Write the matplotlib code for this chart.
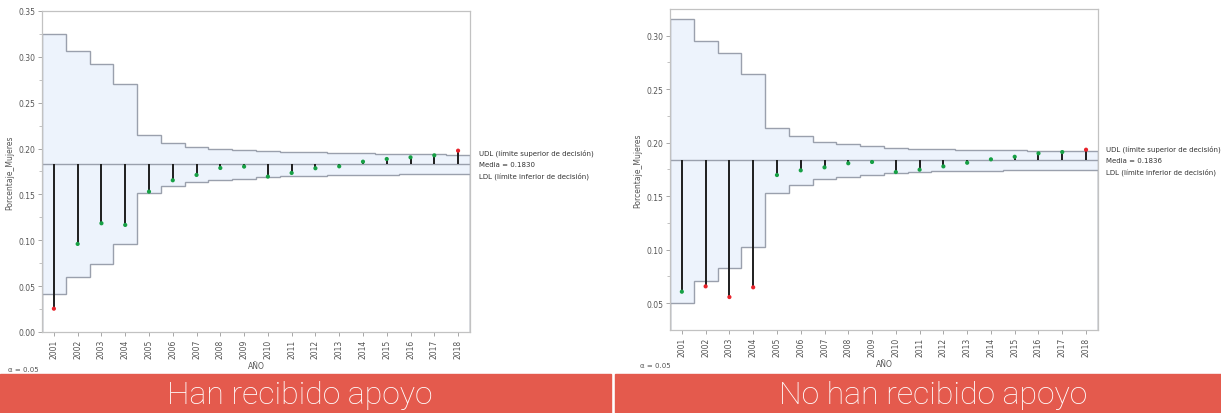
import numpy as np
import matplotlib.pyplot as plt
from matplotlib.patches import Rectangle

years = [str(y) for y in range(2001, 2019)]

# Han recibido apoyo
media_a = 0.1830
valores_a = [0.0254, 0.0960, 0.1185, 0.1167, 0.1530, 0.1654, 0.1712, 0.1788, 0.1803,
             0.1694, 0.1734, 0.1785, 0.1806, 0.1857, 0.1886, 0.1904, 0.1926, 0.1977]
udl_a = [0.3250, 0.3060, 0.2918, 0.2700, 0.2148, 0.2061, 0.2017, 0.1999, 0.1982,
         0.1970, 0.1960, 0.1957, 0.1952, 0.1948, 0.1944, 0.1941, 0.1938, 0.1935]
ldl_a = [0.0414, 0.0600, 0.0737, 0.0960, 0.1520, 0.1590, 0.1639, 0.1654, 0.1672,
         0.1686, 0.1697, 0.1703, 0.1708, 0.1712, 0.1716, 0.1719, 0.1722, 0.1725]

# No han recibido apoyo
media_b = 0.1836
valores_b = [0.0606, 0.0656, 0.0556, 0.0647, 0.1697, 0.1741, 0.1769, 0.1807, 0.1819,
             0.1725, 0.1747, 0.1778, 0.1812, 0.1844, 0.1868, 0.1900, 0.1912, 0.1934]
udl_b = [0.3159, 0.2953, 0.2835, 0.2644, 0.2140, 0.2059, 0.2003, 0.1987, 0.1968,
         0.1952, 0.1942, 0.1936, 0.1933, 0.1930, 0.1928, 0.1926, 0.1925, 0.1924]
ldl_b = [0.0503, 0.0703, 0.0830, 0.1021, 0.1526, 0.1601, 0.1657, 0.1676, 0.1694,
         0.1716, 0.1725, 0.1732, 0.1736, 0.1739, 0.1741, 0.1743, 0.1745, 0.1747]

titulos = ["Han recibido apoyo", "No han recibido apoyo"]

GRIS = '#9aa0ad'
TXT = '#555555'


def panel(ax, media, valores, udl, ldl, ylim, yticks):
    x = np.arange(len(years))
    edges = np.arange(len(years) + 1) - 0.5
    ax.stairs(udl, edges, baseline=ldl, fill=True, color='#edf3fc', zorder=1)
    ax.stairs(udl, edges, color=GRIS, lw=1.0, zorder=2)
    ax.stairs(ldl, edges, color=GRIS, lw=1.0, zorder=2)
    ax.axhline(media, color=GRIS, lw=1.0, zorder=2)
    ax.vlines(x, media, valores, color='#1e1e1e', lw=1.4, zorder=3)
    v = np.array(valores)
    fuera = (v > np.array(udl)) | (v < np.array(ldl))
    cols = np.where(fuera, '#e8232b', '#17a045')
    ax.scatter(x, v, c=cols, s=9, zorder=4, linewidths=0)

    ax.set_xlim(-0.5, len(years) - 0.5)
    ax.set_ylim(*ylim)
    ax.set_xticks(x)
    ax.set_xticklabels(years, rotation=90, fontsize=5.5, color=TXT)
    ax.set_yticks(yticks)
    ax.set_yticklabels(['%.2f' % t for t in yticks], fontsize=5.5, color=TXT)
    ax.set_yticks(np.arange(yticks[0] + 0.025, ylim[1], 0.05), minor=True)
    ax.tick_params(axis='both', which='major', length=3, width=0.6, color='#999999', pad=2)
    ax.tick_params(axis='y', which='minor', length=2, width=0.5, color='#aaaaaa')
    for s in ax.spines.values():
        s.set_color('#c2c2c2')
        s.set_linewidth(0.9)
    ax.set_ylabel('Porcentaje_Mujeres', fontsize=5.5, color=TXT, labelpad=3)
    ax.set_xlabel('AÑO', fontsize=5.5, color=TXT, labelpad=2)

    # etiquetas de límites a la derecha
    tr = ax.get_yaxis_transform()
    ax.text(1.02, udl[-1] + 0.002, 'UDL (límite superior de decisión)', transform=tr,
            fontsize=5, color='#333333', va='center', clip_on=False)
    ax.text(1.02, media, 'Media = %.4f' % media, transform=tr,
            fontsize=5, color='#333333', va='center', clip_on=False)
    ax.text(1.02, ldl[-1] - 0.0015, 'LDL (límite inferior de decisión)', transform=tr,
            fontsize=5, color='#333333', va='center', clip_on=False)


fig = plt.figure(figsize=(12.21, 4.14), dpi=100)

ax1 = fig.add_axes([0.0344, 0.1957, 0.3505, 0.7754])
panel(ax1, media_a, valores_a, udl_a, ldl_a, (0.0, 0.35),
      [0.0, 0.05, 0.10, 0.15, 0.20, 0.25, 0.30, 0.35])

ax2 = fig.add_axes([0.5487, 0.2005, 0.3505, 0.7754])
panel(ax2, media_b, valores_b, udl_b, ldl_b, (0.0248, 0.325),
      [0.05, 0.10, 0.15, 0.20, 0.25, 0.30])

fig.text(8 / 1221, 1 - 370 / 414, 'α = 0.05', fontsize=5, color=TXT, va='center')
fig.text(640 / 1221, 1 - 366 / 414, 'α = 0.05', fontsize=5, color=TXT, va='center')

# banners
fig.patches.append(Rectangle((0, 0), 611 / 1221, 39 / 414, transform=fig.transFigure,
                             color='#e45a4d', zorder=0))
fig.patches.append(Rectangle((615 / 1221, 0), 606 / 1221, 39 / 414, transform=fig.transFigure,
                             color='#e45a4d', zorder=0))
fuente = ['Roboto', 'DejaVu Sans']
fig.text(300 / 1221, 18 / 414, titulos[0], fontsize=23, color='white', weight='light',
         ha='center', va='center', family=fuente, zorder=5)
fig.text(933 / 1221, 18 / 414, titulos[1], fontsize=23, color='white', weight='light',
         ha='center', va='center', family=fuente, zorder=5)

fig.savefig('out.png', dpi=100)
